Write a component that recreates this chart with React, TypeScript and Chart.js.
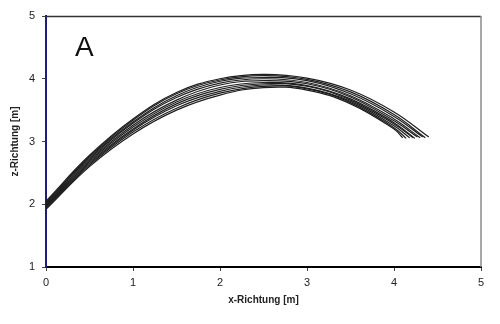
import React, { useEffect, useRef } from "react";
import { Chart, registerables } from "chart.js";

Chart.register(...registerables);

const xTicks = [0, 1, 2, 3, 4, 5];
const zTicks = [1, 2, 3, 4, 5];
const panelLabel = "A";
const xTitle = "x-Richtung [m]";
const zTitle = "z-Richtung [m]";

const traj1X = [0, 0.5, 1, 1.5, 2, 2.5, 3, 3.5, 4, 4.4];
const traj1Z = [2.05, 2.78, 3.36, 3.78, 4.0, 4.07, 4.01, 3.82, 3.47, 3.07];
const traj2X = [0, 0.5, 1, 1.5, 2, 2.5, 3, 3.5, 4, 4.36];
const traj2Z = [2.03, 2.76, 3.34, 3.76, 3.98, 4.05, 3.99, 3.79, 3.43, 3.06];
const traj3X = [0, 0.5, 1, 1.5, 2, 2.5, 3, 3.5, 4, 4.33];
const traj3Z = [2.02, 2.74, 3.31, 3.73, 3.96, 4.02, 3.97, 3.76, 3.4, 3.07];
const traj4X = [0, 0.5, 1, 1.5, 2, 2.5, 3, 3.5, 4, 4.3];
const traj4Z = [2.0, 2.72, 3.29, 3.7, 3.93, 4.0, 3.94, 3.73, 3.36, 3.06];
const traj5X = [0, 0.5, 1, 1.5, 2, 2.5, 3, 3.5, 4, 4.27];
const traj5Z = [1.99, 2.7, 3.26, 3.66, 3.9, 3.97, 3.92, 3.71, 3.33, 3.07];
const traj6X = [0, 0.5, 1, 1.5, 2, 2.5, 3, 3.5, 4, 4.24];
const traj6Z = [1.97, 2.68, 3.23, 3.63, 3.86, 3.94, 3.89, 3.68, 3.3, 3.05];
const traj7X = [0, 0.5, 1, 1.5, 2, 2.5, 3, 3.5, 4, 4.22];
const traj7Z = [1.96, 2.66, 3.2, 3.6, 3.83, 3.92, 3.88, 3.66, 3.28, 3.06];
const traj8X = [0, 0.5, 1, 1.5, 2, 2.5, 3, 3.5, 4, 4.18];
const traj8Z = [1.95, 2.64, 3.18, 3.57, 3.8, 3.9, 3.85, 3.64, 3.25, 3.06];
const traj9X = [0, 0.5, 1, 1.5, 2, 2.5, 3, 3.5, 4, 4.14];
const traj9Z = [1.93, 2.62, 3.15, 3.53, 3.77, 3.88, 3.84, 3.62, 3.22, 3.05];
const traj10X = [0, 0.5, 1, 1.5, 2, 2.5, 3, 3.5, 4, 4.1];
const traj10Z = [1.92, 2.6, 3.12, 3.5, 3.74, 3.86, 3.82, 3.6, 3.2, 3.06];

const trajectories = [
  [traj1X, traj1Z], [traj2X, traj2Z], [traj3X, traj3Z], [traj4X, traj4Z], [traj5X, traj5Z],
  [traj6X, traj6Z], [traj7X, traj7Z], [traj8X, traj8Z], [traj9X, traj9Z], [traj10X, traj10Z],
];

const FONT = "'Liberation Sans', Arial, sans-serif";

const framePlugin = {
  id: "frame",
  afterDraw(chart: any) {
    const { ctx, chartArea } = chart;
    const { left, right, top, bottom } = chartArea;
    ctx.save();
    ctx.lineWidth = 1.5;
    ctx.strokeStyle = "#333333";
    ctx.beginPath();
    ctx.moveTo(left, top + 0.5);
    ctx.lineTo(right, top + 0.5);
    ctx.stroke();
    ctx.strokeStyle = "#8a8a8a";
    ctx.beginPath();
    ctx.moveTo(right, top);
    ctx.lineTo(right, bottom);
    ctx.stroke();
    ctx.fillStyle = "#111111";
    ctx.font = `28px ${FONT}`;
    ctx.textBaseline = "alphabetic";
    ctx.textAlign = "left";
    ctx.fillText(panelLabel, 75, 56);
    ctx.restore();
  },
};

export default function App() {
  const ref = useRef<HTMLCanvasElement | null>(null);
  useEffect(() => {
    document.body.style.margin = "0";
    const canvas = ref.current!;
    const chart = new Chart(canvas, {
      type: "line",
      data: {
        datasets: trajectories.map(([xs, zs]) => ({
          data: xs.map((x, i) => ({ x, y: zs[i] })),
          borderColor: "#1e1e1e",
          borderWidth: 1.2,
          pointRadius: 0,
          fill: false,
          tension: 0.4,
        })),
      },
      options: {
        animation: false,
        responsive: false,
        maintainAspectRatio: false,
        layout: { padding: { left: 0, top: 16, right: 19, bottom: 0 } },
        plugins: { legend: { display: false }, tooltip: { enabled: false } },
        scales: {
          x: {
            type: "linear",
            min: 0,
            max: 5,
            afterBuildTicks: (s: any) => { s.ticks = xTicks.map((v) => ({ value: v })); },
            afterFit: (s: any) => { s.height = 57; },
            grid: { drawOnChartArea: false, drawTicks: true, tickLength: 4, color: "#444" },
            border: { color: "#000", width: 2 },
            ticks: { color: "#222", font: { family: FONT, size: 11 }, padding: 5, maxRotation: 0 },
            title: { display: true, text: xTitle, color: "#222", font: { family: FONT, size: 10, weight: "bold" }, padding: { top: 0, bottom: 18 } },
          },
          y: {
            type: "linear",
            min: 1,
            max: 5,
            afterBuildTicks: (s: any) => { s.ticks = zTicks.map((v) => ({ value: v })); },
            afterFit: (s: any) => { s.width = 46; },
            grid: { drawOnChartArea: false, drawTicks: true, tickLength: 4, color: "#444" },
            border: { color: "#1f1f7a", width: 2 },
            ticks: { color: "#222", font: { family: FONT, size: 11 }, padding: 7 },
            title: { display: true, text: zTitle, color: "#222", font: { family: FONT, size: 10, weight: "bold" }, padding: { top: 9, bottom: 0 } },
          },
        },
      },
      plugins: [framePlugin],
    });
    return () => chart.destroy();
  }, []);
  return (
    <div style={{ position: "absolute", left: 0, top: 0, width: 500, height: 324, background: "#fff" }}>
      <canvas ref={ref} width={500} height={324} style={{ width: 500, height: 324 }} />
    </div>
  );
}
